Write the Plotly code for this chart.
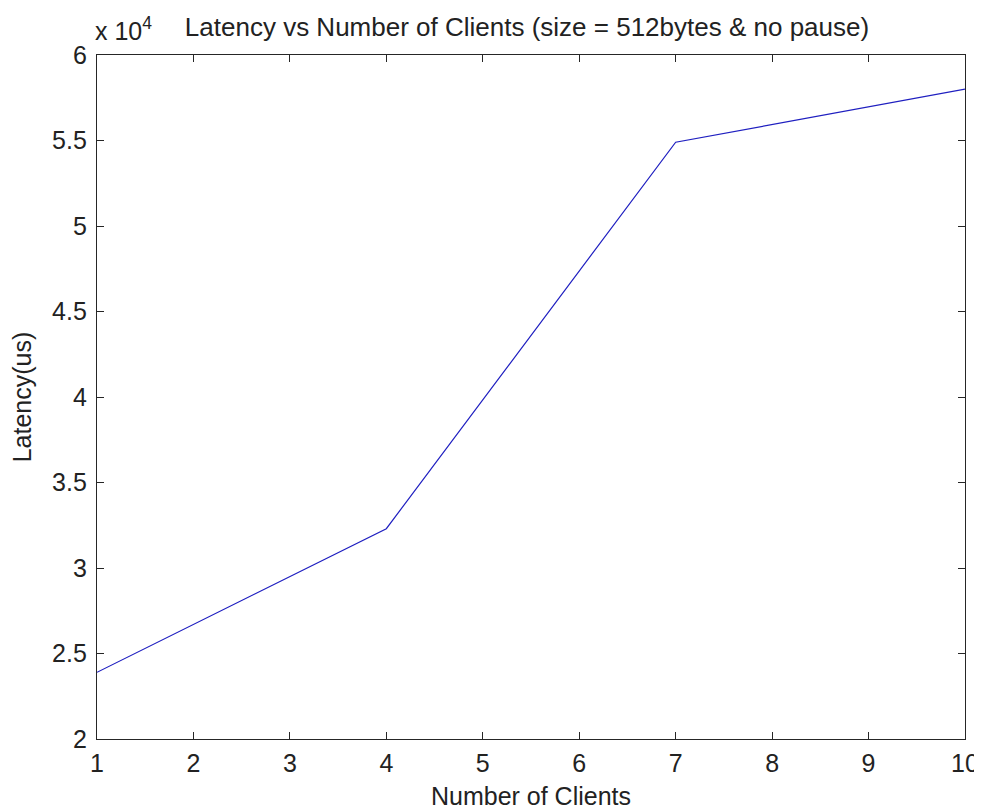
import plotly.graph_objects as go

clients = [1, 4, 7, 10]
latency_us = [23900, 32300, 54900, 58000]

x_ticks = [1, 2, 3, 4, 5, 6, 7, 8, 9, 10]
y_tickvals = [20000, 25000, 30000, 35000, 40000, 45000, 50000, 55000, 60000]
y_ticktext = ["2", "2.5", "3", "3.5", "4", "4.5", "5", "5.5", "6"]

FONT = "Liberation Sans, Arial, sans-serif"
TXT = "#222222"

# page body has an 8px margin; figure offset accordingly
W, H = 974, 806

fig = go.Figure()
fig.add_trace(go.Scatter(
    x=clients, y=latency_us, mode="lines",
    line=dict(color="#1f1fc0", width=1.2),
    showlegend=False, hoverinfo="x+y",
))

axis_common = dict(
    showgrid=False, zeroline=False, showline=True, linecolor="#262626", linewidth=1.3,
    mirror="ticks", ticks="inside", ticklen=7, tickwidth=1.2, tickcolor="#262626",
    tickfont=dict(family=FONT, size=25, color=TXT), automargin=False,
    ticklabeloverflow="allow",
)

fig.update_layout(
    width=W, height=H,
    margin=dict(l=89, r=17, t=47, b=75),
    paper_bgcolor="white", plot_bgcolor="white",
    font=dict(family=FONT, color=TXT),
    title=dict(text="Latency vs Number of Clients (size = 512bytes & no pause)",
               x=519 / W, xanchor="center", y=1 - 19 / H, yanchor="middle",
               font=dict(family=FONT, size=26, color=TXT)),
    xaxis=dict(range=[1, 10], tickvals=x_ticks, ticktext=[str(v) for v in x_ticks],
               ticklabelstandoff=2,
               title=dict(text="Number of Clients", standoff=11,
                          font=dict(family=FONT, size=25, color=TXT)),
               **axis_common),
    yaxis=dict(range=[20000, 60000], tickvals=y_tickvals, ticktext=y_ticktext,
               ticklabelstandoff=4,
               title=dict(text="Latency(us)", standoff=17,
                          font=dict(family=FONT, size=25, color=TXT)),
               **axis_common),
    annotations=[dict(text="x 10<sup>4</sup>", xref="paper", yref="paper",
                      x=0, y=1, xanchor="left", yanchor="bottom", yshift=9, xshift=-3,
                      showarrow=False, borderpad=0,
                      font=dict(family=FONT, size=25, color=TXT))],
)

fig.write_html("out.html")
